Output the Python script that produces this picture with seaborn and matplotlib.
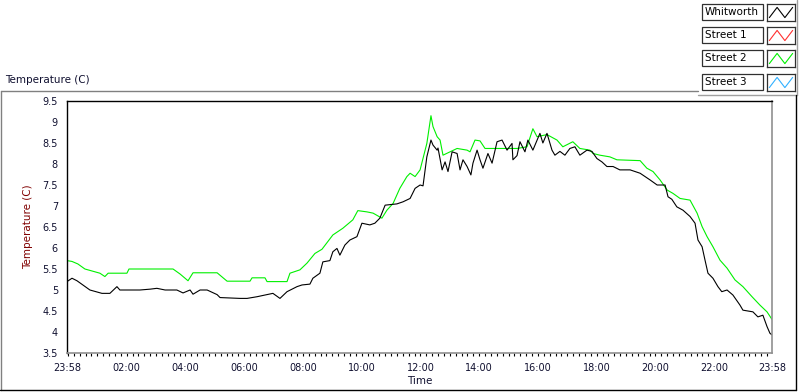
"""Temperature log, Whitworth vs Street 2, one day from 23:58 to 23:58."""
import matplotlib
matplotlib.use("Agg")
import matplotlib.pyplot as plt
from matplotlib.lines import Line2D
from matplotlib.patches import Rectangle
from matplotlib.ticker import FixedLocator
import pandas as pd
import seaborn as sns

# hours elapsed since 23:58 and temperature (C)
whitworth_hours = [
    0.00, 0.17, 0.34, 0.54, 0.78, 1.19, 1.46, 1.70, 1.80, 2.48, 2.83, 3.06,
    3.34, 3.74, 3.95, 4.19, 4.29, 4.53, 4.77, 5.11, 5.21, 5.89, 6.13, 6.47,
    6.67, 7.01, 7.25, 7.49, 7.83, 8.00, 8.27, 8.37, 8.61, 8.71, 8.95, 9.05,
    9.19, 9.29, 9.46, 9.63, 9.87, 10.04, 10.31, 10.48, 10.65, 10.83, 11.23,
    11.44, 11.68, 11.85, 12.02, 12.12, 12.25, 12.39, 12.46, 12.60, 12.63,
    12.77, 12.87, 12.97, 13.11, 13.28, 13.38, 13.48, 13.62, 13.75, 13.82,
    13.96, 14.06, 14.16, 14.33, 14.47, 14.64, 14.81, 14.98, 15.15, 15.18,
    15.32, 15.42, 15.59, 15.69, 15.86, 16.10, 16.20, 16.34, 16.51, 16.61,
    16.78, 16.95, 17.12, 17.29, 17.46, 17.70, 17.87, 18.04, 18.21, 18.38,
    18.59, 18.82, 19.17, 19.51, 19.85, 20.09, 20.36, 20.46, 20.59, 20.76,
    20.97, 21.21, 21.38, 21.48, 21.62, 21.72, 21.82, 21.99, 22.16, 22.29,
    22.47, 22.67, 22.91, 23.01, 23.35, 23.52, 23.69, 23.83, 23.93, 24.00,
]
whitworth_temp = [
    5.20, 5.28, 5.22, 5.12, 5.00, 4.92, 4.92, 5.08, 5.00, 5.00, 5.02, 5.04,
    5.00, 5.00, 4.93, 5.00, 4.90, 5.00, 5.00, 4.89, 4.82, 4.80, 4.80, 4.84,
    4.87, 4.92, 4.80, 4.96, 5.08, 5.12, 5.14, 5.28, 5.40, 5.67, 5.70, 5.91,
    5.99, 5.83, 6.07, 6.19, 6.27, 6.59, 6.55, 6.59, 6.71, 7.02, 7.05,
    7.10, 7.18, 7.42, 7.50, 7.48, 8.17, 8.57, 8.45, 8.33, 8.38,
    7.86, 8.05, 7.82, 8.29, 8.25, 7.86, 8.10, 7.94, 7.74, 8.02,
    8.33, 8.10, 7.90, 8.25, 8.02, 8.53, 8.57, 8.33, 8.49, 8.10,
    8.20, 8.53, 8.29, 8.57, 8.33, 8.73, 8.50, 8.73, 8.33, 8.21,
    8.30, 8.21, 8.37, 8.41, 8.21, 8.33, 8.30, 8.13, 8.05, 7.94,
    7.94, 7.86, 7.86, 7.78, 7.62, 7.50, 7.50, 7.22, 7.16, 6.98,
    6.90, 6.75, 6.59, 6.19, 6.03, 5.71, 5.40, 5.28, 5.08, 4.96,
    5.00, 4.88, 4.64, 4.52, 4.48, 4.36, 4.40, 4.13, 3.97, 3.93,
]
street2_hours = [
    0.00, 0.17, 0.37, 0.61, 1.12, 1.29, 1.40, 2.04, 2.11, 3.61, 3.85, 4.12,
    4.29, 5.11, 5.45, 6.23, 6.30, 6.74, 6.81, 7.49, 7.59, 7.93, 8.17, 8.44,
    8.68, 9.05, 9.39, 9.73, 9.90, 10.21, 10.42, 10.72, 10.89, 11.10, 11.33,
    11.57, 11.68, 11.85, 12.02, 12.25, 12.39, 12.46, 12.60, 12.70, 12.80,
    13.04, 13.28, 13.62, 13.72, 13.89, 14.06, 14.23, 15.32, 15.66, 15.86,
    16.00, 16.34, 16.68, 16.88, 17.22, 17.46, 17.80, 17.91, 18.14, 18.48,
    18.72, 19.51, 19.74, 19.95, 20.19, 20.43, 20.63, 20.87, 21.21, 21.45,
    21.62, 21.79, 21.99, 22.23, 22.47, 22.74, 23.01, 23.32, 23.59, 23.83,
    24.00,
]
street2_temp = [
    5.70, 5.68, 5.62, 5.50, 5.40, 5.32, 5.40, 5.40, 5.50, 5.50, 5.38, 5.22,
    5.41, 5.41, 5.21, 5.21, 5.29, 5.29, 5.20, 5.20, 5.40, 5.48, 5.64, 5.87,
    5.97, 6.31, 6.47, 6.67, 6.89, 6.86, 6.83, 6.71, 6.90, 7.06, 7.42,
    7.70, 7.78, 7.70, 7.86, 8.49, 9.15, 8.89, 8.65, 8.57, 8.21,
    8.29, 8.37, 8.33, 8.29, 8.57, 8.55, 8.37, 8.37, 8.41, 8.84,
    8.65, 8.70, 8.57, 8.41, 8.53, 8.37, 8.33, 8.25, 8.21, 8.17,
    8.10, 8.08, 7.90, 7.82, 7.62, 7.38, 7.30, 7.18, 7.14, 6.83,
    6.51, 6.27, 6.03, 5.71, 5.52, 5.24, 5.08, 4.84, 4.64, 4.48,
    4.30,
]

legend_names = ["Whitworth", "Street 1", "Street 2", "Street 3"]
legend_colors = ["#000000", "#ff3030", "#00f000", "#30b0ff"]

tick_hours = [0.0, 2.033, 4.033, 6.033, 8.033, 10.033, 12.033, 14.033,
              16.033, 18.033, 20.033, 22.033, 24.0]
tick_labels = ["23:58", "02:00", "04:00", "06:00", "08:00", "10:00", "12:00",
               "14:00", "16:00", "18:00", "20:00", "22:00", "23:58"]
y_ticks = [3.5, 4, 4.5, 5, 5.5, 6, 6.5, 7, 7.5, 8, 8.5, 9, 9.5]

sns.set_theme(style="white")
plt.rcParams["font.family"] = ["DejaVu Sans"]

W, H = 800, 392


def fx(px):
    return px / W


def fy(py):
    return 1 - py / H


df = pd.concat([
    pd.DataFrame({"hours": whitworth_hours, "temp": whitworth_temp, "sensor": "Whitworth"}),
    pd.DataFrame({"hours": street2_hours, "temp": street2_temp, "sensor": "Street 2"}),
])

fig = plt.figure(figsize=(W / 100, H / 100), dpi=100)
ax = fig.add_axes([fx(67), fy(353), fx(772) - fx(67), fy(101) - fy(353)])

sns.lineplot(data=df, x="hours", y="temp", hue="sensor", estimator=None, sort=False,
             palette={"Whitworth": "#000000", "Street 2": "#00f000"},
             hue_order=["Street 2", "Whitworth"], linewidth=0.8, legend=False, ax=ax)

ax.set_xlim(0, 24)
ax.set_ylim(3.5, 9.5)
ax.set_xticks(tick_hours)
ax.set_xticklabels(tick_labels)
ax.xaxis.set_minor_locator(FixedLocator([0.0333 + 0.2 * k for k in range(120)]))
ax.set_yticks(y_ticks)
ax.set_yticklabels([f"{v:g}" for v in y_ticks])
ax.tick_params(axis="both", which="major", direction="out", length=5, width=0.8,
               color="black", labelsize=7, labelcolor="#101030")
ax.tick_params(axis="x", which="minor", direction="out", length=2.5, width=0.8,
               color="black", bottom=True)
ax.tick_params(axis="x", pad=2)
ax.tick_params(axis="y", pad=1.5)

for side in ["left", "top"]:
    ax.spines[side].set_color("black")
    ax.spines[side].set_linewidth(1.0)
for side in ["right", "bottom"]:
    ax.spines[side].set_color("#909090")
    ax.spines[side].set_linewidth(1.2)

ax.set_xlabel("Time", fontsize=7.5, labelpad=2, color="#101030")
ax.set_ylabel("Temperature (C)", fontsize=7.5, color="#800000")
ax.yaxis.set_label_coords((33 - 67) / 705, 0.5)

fig.text(fx(5), fy(80), "Temperature (C)", fontsize=7.5, ha="left", va="center",
         color="#101030")

# outer chart frame
frame = [
    ((0.5, 698), (91, 91), "#808080"),
    ((698, 797), (95, 95), "#a0a0a0"),
    ((797, 797), (0, 95), "#a0a0a0"),
    ((0.5, 0.5), (91, 390), "#808080"),
    ((0, 796), (390, 390), "#000000"),
    ((796, 796), (95, 390), "#000000"),
]
for xs, ys, c in frame:
    fig.add_artist(Line2D([fx(v) for v in xs], [fy(v) for v in ys], color=c, lw=1.0))

# LabVIEW-style plot legend
row_top = [4, 27, 50, 74]
for name, color, top in zip(legend_names, legend_colors, row_top):
    fig.add_artist(Rectangle((fx(702), fy(top + 16)), fx(763) - fx(702), fy(top) - fy(top + 16),
                             fill=False, edgecolor="#303030", lw=0.9))
    fig.text(fx(705), fy(top + 8), name, fontsize=7.5, ha="left", va="center", color="black")
    icon = fig.add_axes([fx(767), fy(top + 17), fx(795) - fx(767), fy(top) - fy(top + 17)])
    icon.plot([0, 1, 2, 3], [0.2, 0.8, 0.2, 0.8], color=color, lw=0.8)
    icon.set_xlim(-0.3, 3.3)
    icon.set_ylim(0, 1)
    icon.set_xticks([])
    icon.set_yticks([])
    for s in icon.spines.values():
        s.set_color("#303030")
        s.set_linewidth(0.9)

fig.savefig("out.png", dpi=100)
